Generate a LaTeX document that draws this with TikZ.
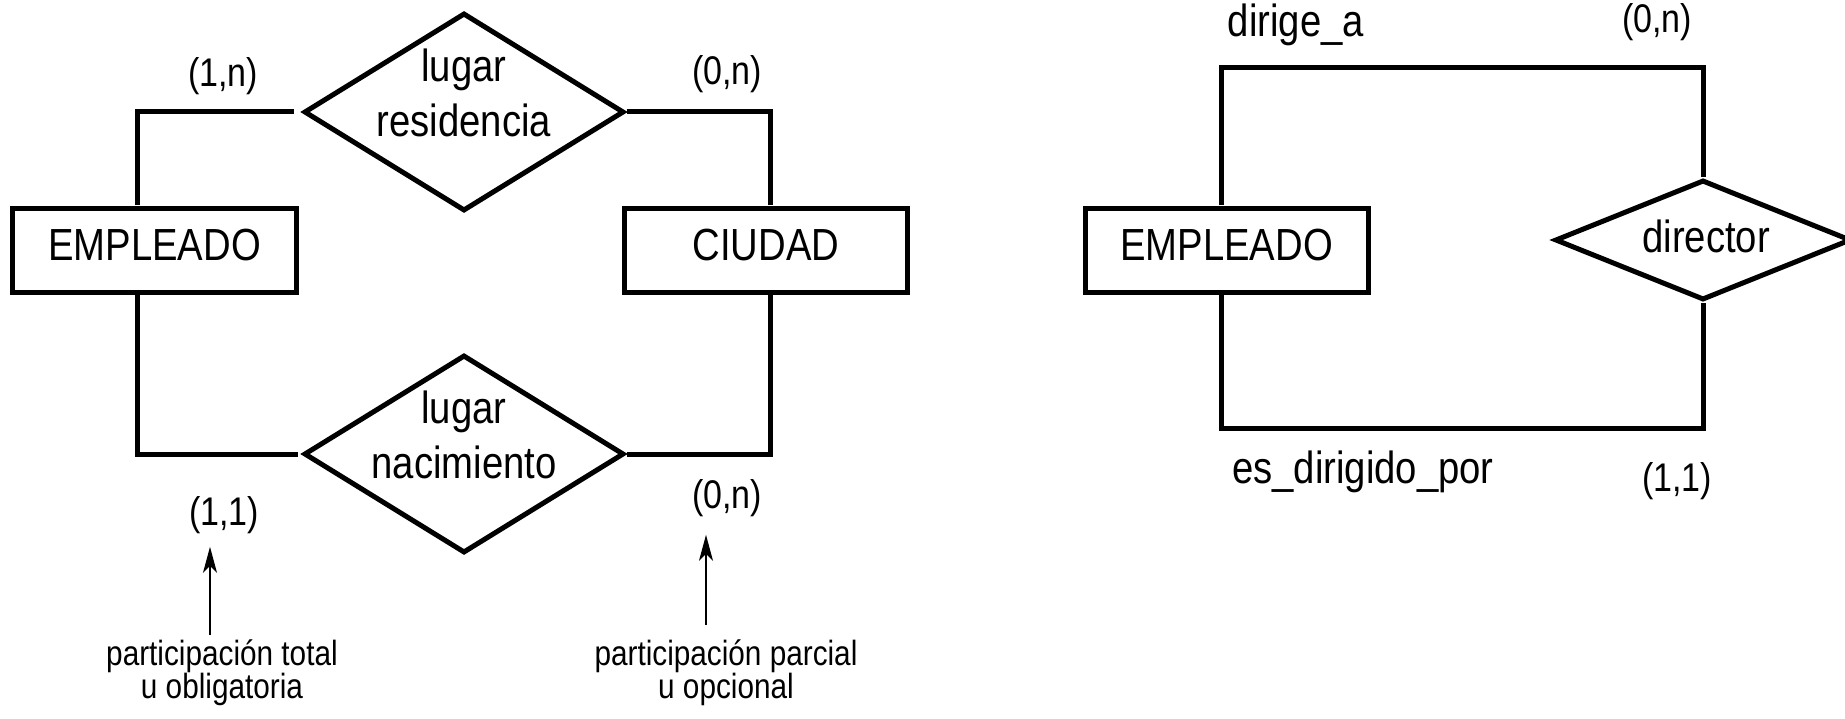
\documentclass[tikz,border=0pt]{standalone}
\usepackage{fontspec}
\setmainfont{Liberation Sans}[FakeStretch=0.85]
\usetikzlibrary{shapes.geometric,arrows.meta}
\tikzset{
  conn/.style={line width=5bp},
  entity/.style={draw, line width=5bp, rectangle, minimum width=283bp, minimum height=84bp,
    inner sep=0pt, text height=33bp, text depth=13bp, font=\fontsize{45bp}{55bp}\selectfont},
  rel/.style={draw, line width=5bp, diamond, inner sep=0pt},
  bigtxt/.style={inner sep=0pt, anchor=base, font=\fontsize{45bp}{55bp}\selectfont},
  card/.style={inner sep=0pt, font=\fontsize{40bp}{48bp}\selectfont},
  note/.style={inner sep=0pt, anchor=base, font=\fontsize{35bp}{33bp}\selectfont},
  arr/.style={line width=1.5bp, -{Stealth[length=26bp,width=14bp,inset=7bp]}}
}
\begin{document}
\begin{tikzpicture}[x=1bp,y=-1bp]
\useasboundingbox (0,0) rectangle (1845,719);
% ---------- left diagram ----------
\node[entity] (e1) at (154.5,250) {EMPLEADO};
\node[entity] (c1) at (766,250) {CIUDAD};
\node[rel, minimum width=320bp, minimum height=198bp] (r1) at (464,112) {};
\node[rel, minimum width=320bp, minimum height=198bp] (r2) at (464,454) {};
\node[bigtxt] (tr1a) at (464,82) {lugar};
\node[bigtxt] (tr1b) at (464,137) {residencia};
\node[bigtxt] (tr2a) at (464,423) {lugar};
\node[bigtxt] (tr2b) at (464,478) {nacimiento};
\coordinate (k1) at (137,0);
\coordinate (k2) at (770,0);
\draw[conn] (e1.north -| k1) |- ([xshift=-8bp]r1.west);
\draw[conn] (r1.east) -| (c1.north -| k2);
\draw[conn] (e1.south -| k1) |- ([xshift=-4bp]r2.west);
\draw[conn] (r2.east) -| (c1.south -| k2);
\node[card] (l1n) at (223,76) {(1,n)};
\node[card] (l0n) at (727,74) {(0,n)};
\node[card] (l11) at (224,515) {(1,1)};
\node[card] (l0nb) at (727,498) {(0,n)};
\node[note] (p1a) at (222,665) {participación total};
\node[note] (p1b) at (222,698) {u obligatoria};
\node[note] (p2a) at (726,665) {participación parcial};
\node[note] (p2b) at (726,698) {u opcional};
\coordinate (a1) at (210,635);
\coordinate (a2) at (706,625);
\draw[arr, shorten >=13bp] (a1) -- (l11.south -| a1);
\draw[arr, shorten >=18bp] (a2) -- (l0nb.south -| a2);
% ---------- right diagram ----------
\node[entity] (e2) at (1226.5,250) {EMPLEADO};
\node[rel, minimum width=296bp, minimum height=120bp] (d1) at (1703,240) {};
\node[bigtxt] (td) at (1706,252) {director};
\coordinate (k3t) at (1221,68);
\coordinate (k3b) at (1221,428);
\draw[conn] (e2.north -| k3t) -- (k3t) -| (d1.north);
\draw[conn] (e2.south -| k3b) -- (k3b) -| (d1.south);
\node[bigtxt] (tda) at (1296,37) {dirige\_a};
\node[card] (r0n) at (1657,22) {(0,n)};
\node[bigtxt] (tdp) at (1363,483) {es\_dirigido\_por};
\node[card] (r11) at (1677,481) {(1,1)};
\end{tikzpicture}
\end{document}
